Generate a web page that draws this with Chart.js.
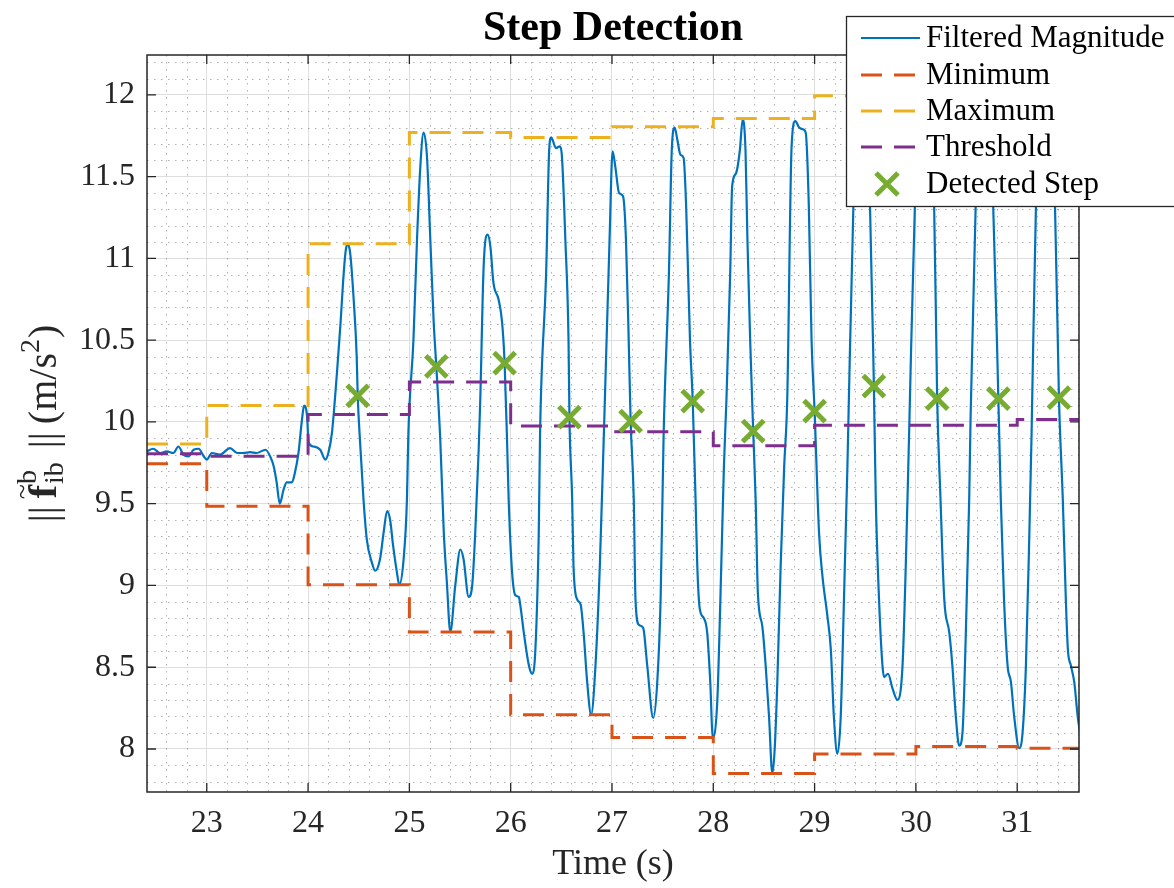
<!DOCTYPE html>
<html>
<head>
<meta charset="utf-8">
<title>Step Detection</title>
<script src="https://cdn.jsdelivr.net/npm/chart.js@4.4.1/dist/chart.umd.min.js"></script>
<style>
  html, body { margin: 0; padding: 0; background: #fff; }
  canvas { display: block; }
</style>
</head>
<body>
<canvas id="stepChart" width="1174" height="888"></canvas>
<script>
'use strict';

// filtered accelerometer magnitude (time in s, value in m/s^2)
const magTime = [
  22.41, 22.47, 22.54, 22.605, 22.67, 22.72, 22.77, 22.82, 22.87, 22.92, 22.97, 23.0,
  23.05, 23.13, 23.23, 23.30, 23.36, 23.43, 23.49, 23.58, 23.625, 23.66, 23.69, 23.72,
  23.76, 23.79, 23.84, 23.87, 23.905, 23.94, 23.96, 23.99, 24.005, 24.05, 24.12, 24.17,
  24.20, 24.235,
  24.285, 24.32, 24.345, 24.37, 24.39, 24.416, 24.45, 24.48, 24.49, 24.515, 24.547, 24.58,
  24.63, 24.663, 24.71, 24.745, 24.78, 24.81, 24.84, 24.877, 24.90, 24.943, 24.976, 24.99,
  25.04, 25.075, 25.108, 25.14, 25.174, 25.207, 25.24, 25.266, 25.305, 25.34, 25.37, 25.404,
  25.453, 25.503, 25.535, 25.585, 25.62, 25.65, 25.684, 25.70,
  25.733, 25.773, 25.80, 25.83, 25.88, 25.915, 25.94, 25.964, 25.98, 26.014, 26.046, 26.08,
  26.096, 26.13, 26.18, 26.21, 26.244, 26.277, 26.29,
  26.35, 26.38, 26.40, 26.447, 26.485, 26.503, 26.54, 26.571, 26.58, 26.607, 26.62, 26.656,
  26.69, 26.72, 26.755, 26.794, 26.837, 26.88, 26.92,
  26.976, 27.006, 27.033, 27.07, 27.109, 27.138, 27.165, 27.184, 27.215, 27.232, 27.265, 27.308,
  27.348, 27.407, 27.447, 27.48, 27.51,
  27.562, 27.59, 27.619, 27.645, 27.676, 27.707, 27.732, 27.77, 27.797, 27.825, 27.842, 27.867,
  27.907, 27.94, 27.97, 27.995, 28.04, 28.07, 28.105, 28.13,
  28.167, 28.186, 28.224, 28.262, 28.29, 28.318, 28.337, 28.364, 28.394, 28.418, 28.44, 28.484,
  28.517, 28.55, 28.583, 28.606, 28.632, 28.665, 28.70, 28.73,
  28.773, 28.81, 28.848, 28.885, 28.912, 28.943, 28.97, 29.0, 29.044, 29.077, 29.127, 29.16,
  29.19, 29.225, 29.258, 29.29, 29.324,
  29.383, 29.455, 29.547, 29.585, 29.604, 29.636, 29.67, 29.686, 29.725, 29.769, 29.818, 29.868,
  29.90, 29.933,
  29.99, 30.08, 30.18, 30.21, 30.243, 30.28, 30.33, 30.36, 30.394, 30.427, 30.46, 30.493,
  30.526, 30.54,
  30.59, 30.676, 30.763, 30.814, 30.838, 30.87, 30.905, 30.938, 30.97, 31.02, 31.053, 31.086,
  31.12, 31.142,
  31.185, 31.28, 31.373, 31.412, 31.45, 31.48, 31.50, 31.53, 31.563, 31.597, 31.62
];
const magValue = [
  9.82, 9.836, 9.81, 9.82, 9.81, 9.85, 9.80, 9.79, 9.83, 9.836, 9.79, 9.77,
  9.81, 9.80, 9.84, 9.81, 9.81, 9.815, 9.81, 9.83, 9.79, 9.73, 9.63, 9.50,
  9.59, 9.63, 9.63, 9.69, 9.81, 10.015, 10.10, 10.035, 9.875, 9.85, 9.83, 9.77,
  9.81, 9.93,
  10.30, 10.60, 10.85, 11.04, 11.09, 11.03, 10.75, 10.40, 10.16, 9.86, 9.527, 9.28,
  9.14, 9.09, 9.16, 9.32, 9.455, 9.40, 9.24, 9.08, 9.005, 9.16, 9.527, 9.93,
  10.50, 11.11, 11.56, 11.77, 11.62, 11.11, 10.61, 10.34, 9.89, 9.32, 9.02, 8.715,
  9.0, 9.22, 9.16, 8.93, 9.0, 9.32, 9.83, 10.14,
  10.95, 11.145, 11.07, 10.85, 10.75, 10.61, 10.36, 9.89, 9.527, 9.08, 8.94, 8.93,
  8.875, 8.71, 8.51, 8.46, 8.61, 9.32, 9.93,
  10.91, 11.66, 11.74, 11.675, 11.685, 11.645, 11.11, 10.50, 10.03, 9.527, 9.12, 8.915,
  8.885, 8.71, 8.41, 8.21, 8.51, 9.12, 9.93,
  11.115, 11.655, 11.56, 11.40, 11.38, 11.115, 10.50, 10.005, 9.527, 8.915, 8.76, 8.74,
  8.51, 8.19, 8.41, 8.915, 9.93,
  10.91, 11.66, 11.80, 11.726, 11.634, 11.614, 11.32, 10.50, 10.127, 9.527, 9.12, 8.855,
  8.80, 8.71, 8.41, 8.07, 8.30, 8.915, 9.73, 10.14,
  10.91, 11.44, 11.52, 11.66, 11.85, 11.66, 11.115, 10.50, 9.944, 9.527, 8.955, 8.75,
  8.51, 8.20, 7.85, 8.0, 8.41, 9.12, 9.73, 10.14,
  11.685, 11.84, 11.80, 11.79, 11.77, 11.32, 10.50, 10.066, 9.32, 9.06, 8.81, 8.61,
  8.20, 7.97, 8.20, 8.915, 9.73,
  11.32, 11.995, 11.32, 10.219, 9.527, 8.915, 8.51, 8.44, 8.46, 8.37, 8.30, 8.51,
  9.12, 9.93,
  11.32, 11.95, 11.32, 10.142, 9.527, 8.915, 8.71, 8.51, 8.20, 8.02, 8.10, 8.71,
  9.527, 10.035,
  11.32, 11.95, 11.32, 10.142, 9.527, 8.915, 8.51, 8.41, 8.20, 8.005, 8.10, 8.51,
  9.32, 9.93,
  11.32, 12.02, 11.32, 10.148, 9.527, 8.915, 8.61, 8.51, 8.41, 8.20, 8.10
];

// one-second windows: min / max / threshold held per window
const windowTime = [22.41, 23, 24, 25, 26, 27, 28, 29, 30, 31, 31.61];
const windowMin = [9.745, 9.485, 9.005, 8.715, 8.21, 8.07, 7.85, 7.97, 8.015, 8.005, 8.005];
const windowMax = [9.865, 10.10, 11.09, 11.77, 11.74, 11.805, 11.855, 11.995, 11.95, 12.02, 12.02];
const windowThreshold = [9.805, 9.79, 10.045, 10.245, 9.975, 9.94, 9.855, 9.98, 9.98, 10.015, 10.015];

// detected steps
const stepTime = [24.49, 25.266, 25.94, 26.58, 27.184, 27.797, 28.394, 29.0, 29.585, 30.21, 30.814, 31.412];
const stepValue = [10.16, 10.34, 10.36, 10.03, 10.005, 10.127, 9.944, 10.066, 10.219, 10.142, 10.142, 10.148];

// axis ticks
const xTicks = [23, 24, 25, 26, 27, 28, 29, 30, 31];
const yTicks = [8, 8.5, 9, 9.5, 10, 10.5, 11, 11.5, 12];

const SERIF = "'Liberation Serif', 'Times New Roman', 'DejaVu Serif', serif";
const AXIS_COLOR = '#262626';
const DASH = [21, 12];

function zip(xs, ys) {
  return xs.map((x, i) => ({ x: x, y: ys[i] }));
}

// dotted minor grid, box and inward ticks, titles and the legend box
const matlabFrame = {
  id: 'matlabFrame',
  beforeDatasetsDraw(chart) {
    const ctx = chart.ctx;
    const a = chart.chartArea;
    const xs = chart.scales.x;
    const ys = chart.scales.y;
    ctx.save();
    ctx.strokeStyle = 'rgba(70,70,70,0.42)';
    ctx.lineWidth = 1;
    ctx.setLineDash([1.5, 5.5]);
    for (let k = 113; k <= 158; k++) {
      let v = k / 5;
      if (k % 5 === 0 || v <= xs.min || v >= xs.max) continue;
      let px = Math.round(xs.getPixelForValue(v)) + 0.5;
      ctx.beginPath();
      ctx.moveTo(px, a.top);
      ctx.lineTo(px, a.bottom);
      ctx.stroke();
    }
    for (let k = 78; k <= 122; k++) {
      let v = k / 10;
      if (k % 5 === 0 || v <= ys.min || v >= ys.max) continue;
      let py = Math.round(ys.getPixelForValue(v)) + 0.5;
      ctx.beginPath();
      ctx.moveTo(a.left, py);
      ctx.lineTo(a.right, py);
      ctx.stroke();
    }
    ctx.restore();
  },
  afterDatasetsDraw(chart) {
    const ctx = chart.ctx;
    const a = chart.chartArea;
    const xs = chart.scales.x;
    const ys = chart.scales.y;
    ctx.save();
    ctx.strokeStyle = AXIS_COLOR;
    ctx.lineWidth = 1.5;
    ctx.strokeRect(a.left, a.top, a.right - a.left, a.bottom - a.top);
    ctx.lineWidth = 1.3;
    ctx.beginPath();
    xTicks.forEach(v => {
      let px = xs.getPixelForValue(v);
      ctx.moveTo(px, a.bottom); ctx.lineTo(px, a.bottom - 9);
      ctx.moveTo(px, a.top); ctx.lineTo(px, a.top + 9);
    });
    yTicks.forEach(v => {
      let py = ys.getPixelForValue(v);
      ctx.moveTo(a.left, py); ctx.lineTo(a.left + 9, py);
      ctx.moveTo(a.right, py); ctx.lineTo(a.right - 9, py);
    });
    ctx.stroke();
    ctx.restore();
  },
  afterDraw(chart) {
    const ctx = chart.ctx;
    const a = chart.chartArea;
    const midX = (a.left + a.right) / 2;
    ctx.save();
    ctx.fillStyle = '#000';
    ctx.textAlign = 'center';
    ctx.textBaseline = 'alphabetic';
    ctx.font = 'bold 42px ' + SERIF;
    ctx.fillText('Step Detection', midX, 40);

    ctx.fillStyle = AXIS_COLOR;
    ctx.font = '36px ' + SERIF;
    ctx.fillText('Time (s)', midX, 874);

    drawYLabel(ctx, 56, (a.top + a.bottom) / 2);
    drawLegend(chart);
    ctx.restore();
  }
};

// || f~^b_ib || (m/s^2), rotated along the left side
function drawYLabel(ctx, baseX, centerY) {
  const S = 40;
  const norm = S + 'px ' + SERIF;
  const bold = 'bold ' + S + 'px ' + SERIF;
  const small = Math.round(S * 0.7) + 'px ' + SERIF;
  const bars = '||';
  ctx.save();
  ctx.translate(baseX, centerY);
  ctx.rotate(-Math.PI / 2);
  ctx.textAlign = 'left';
  ctx.textBaseline = 'alphabetic';
  ctx.fillStyle = AXIS_COLOR;

  ctx.font = norm;
  const barsW = ctx.measureText(bars).width;
  const unitW = ctx.measureText('(m/s').width;
  const closeW = ctx.measureText(')').width;
  ctx.font = bold;
  const fw = ctx.measureText('f').width;
  ctx.font = small;
  const scriptW = Math.max(ctx.measureText('b').width, ctx.measureText('ib').width);
  const twoW = ctx.measureText('2').width;
  const gapA = 8, gapB = 14, gapC = 8;
  const total = barsW + gapA + fw + 1 + scriptW + gapB + barsW + gapC + unitW + twoW + 1 + closeW;

  let x = -total / 2;
  ctx.font = norm;
  ctx.fillText(bars, x, 0);
  x += barsW + gapA;
  ctx.font = bold;
  ctx.fillText('f', x, 0);
  ctx.font = small;
  ctx.textAlign = 'center';
  ctx.fillText('~', x + fw / 2, -S * 0.62);
  ctx.textAlign = 'left';
  x += fw + 1;
  ctx.fillText('b', x, -S * 0.5);
  ctx.fillText('ib', x, S * 0.17);
  x += scriptW + gapB;
  ctx.font = norm;
  ctx.fillText(bars, x, 0);
  x += barsW + gapC;
  ctx.fillText('(m/s', x, 0);
  x += unitW;
  ctx.font = small;
  ctx.fillText('2', x, -S * 0.42);
  x += twoW + 1;
  ctx.font = norm;
  ctx.fillText(')', x, 0);
  ctx.restore();
}

function drawLegend(chart) {
  const ctx = chart.ctx;
  const box = { left: 846.5, top: 16.5, right: 1180, bottom: 206.5 };
  ctx.save();
  ctx.fillStyle = '#fff';
  ctx.fillRect(box.left, box.top, box.right - box.left, box.bottom - box.top);
  ctx.strokeStyle = AXIS_COLOR;
  ctx.lineWidth = 1.3;
  ctx.strokeRect(box.left, box.top, box.right - box.left, box.bottom - box.top);

  const rowY = [38, 75, 111, 147, 184];
  chart.data.datasets.forEach((ds, i) => {
    const y = rowY[i];
    ctx.strokeStyle = ds.borderColor;
    if (ds.showLine === false) {
      const h = 11;
      ctx.lineWidth = ds.pointBorderWidth;
      ctx.setLineDash([]);
      ctx.beginPath();
      ctx.moveTo(887 - h, y - h); ctx.lineTo(887 + h, y + h);
      ctx.moveTo(887 - h, y + h); ctx.lineTo(887 + h, y - h);
      ctx.stroke();
    } else {
      ctx.lineWidth = ds.borderWidth;
      ctx.setLineDash(ds.borderDash || []);
      ctx.beginPath();
      ctx.moveTo(861, y);
      ctx.lineTo(920, y);
      ctx.stroke();
    }
    ctx.setLineDash([]);
    ctx.fillStyle = '#000';
    ctx.font = '31px ' + SERIF;
    ctx.textAlign = 'left';
    ctx.textBaseline = 'middle';
    ctx.fillText(ds.label, 926, y + 1);
  });
  ctx.restore();
}

const chartCanvas = document.getElementById('stepChart');

new Chart(chartCanvas, {
  type: 'line',
  data: {
    datasets: [{
      label: 'Filtered Magnitude',
      data: zip(magTime, magValue),
      borderColor: '#0072BD',
      borderWidth: 2.2,
      pointRadius: 0,
      cubicInterpolationMode: 'monotone',
      order: 5
    }, {
      label: 'Minimum',
      data: zip(windowTime, windowMin),
      borderColor: '#D95319',
      borderWidth: 3,
      borderDash: DASH,
      stepped: true,
      pointRadius: 0,
      order: 4
    }, {
      label: 'Maximum',
      data: zip(windowTime, windowMax),
      borderColor: '#EDB120',
      borderWidth: 3,
      borderDash: DASH,
      stepped: true,
      pointRadius: 0,
      order: 3
    }, {
      label: 'Threshold',
      data: zip(windowTime, windowThreshold),
      borderColor: '#7E2F8E',
      borderWidth: 3,
      borderDash: DASH,
      stepped: true,
      pointRadius: 0,
      order: 2
    }, {
      label: 'Detected Step',
      data: zip(stepTime, stepValue),
      showLine: false,
      borderColor: '#77AC30',
      backgroundColor: '#77AC30',
      pointStyle: 'crossRot',
      pointRadius: 15,
      pointBorderWidth: 5,
      pointBorderColor: '#77AC30',
      order: 1
    }]
  },
  options: {
    responsive: false,
    animation: false,
    devicePixelRatio: 1,
    layout: { padding: { top: 55, right: 95, left: 0, bottom: 0 } },
    plugins: {
      legend: { display: false },
      title: { display: false },
      tooltip: { enabled: false }
    },
    scales: {
      x: {
        type: 'linear',
        min: 22.41,
        max: 31.61,
        afterFit: s => { s.height = 96; },
        afterBuildTicks: s => { s.ticks = xTicks.map(v => ({ value: v })); },
        border: { display: false },
        grid: { color: '#dedede', lineWidth: 1, drawTicks: false },
        ticks: {
          padding: 12,
          maxRotation: 0,
          autoSkip: false,
          color: AXIS_COLOR,
          font: { family: SERIF, size: 32 },
          callback: v => String(v)
        }
      },
      y: {
        type: 'linear',
        min: 7.737,
        max: 12.244,
        afterFit: s => { s.width = 147; },
        afterBuildTicks: s => { s.ticks = yTicks.map(v => ({ value: v })); },
        border: { display: false },
        grid: { color: '#dedede', lineWidth: 1, drawTicks: false },
        ticks: {
          padding: 12,
          autoSkip: false,
          color: AXIS_COLOR,
          font: { family: SERIF, size: 32 },
          callback: v => String(v)
        }
      }
    }
  },
  plugins: [matlabFrame]
});
</script>
</body>
</html>
